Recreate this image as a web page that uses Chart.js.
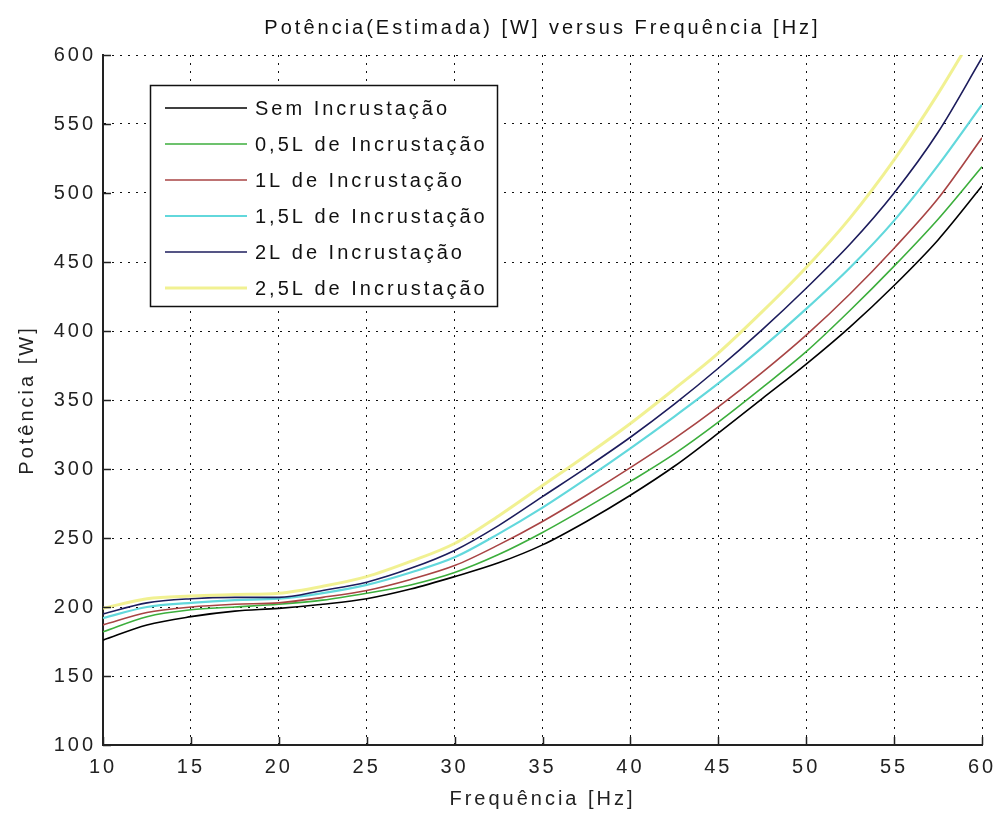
<!DOCTYPE html>
<html><head><meta charset="utf-8">
<script src="https://cdn.jsdelivr.net/npm/chart.js@4.4.1/dist/chart.umd.min.js"></script>
<style>html,body{margin:0;padding:0;background:#fff;}canvas{display:block;}</style>
</head><body>
<canvas id="c" width="997" height="816"></canvas>
<script>
// ---- data ----
const freq = [10,12.5,15,17.5,20,22.5,25,27.5,30,32.5,35,37.5,40,42.5,45,47.5,50,52.5,55,57.5,60];
const semIncrustacao = [176,187,193,197,199,202,206,213,222,232,245,262,281,302,326,351,376,403,433,466,505];
const incrust05 = [182,193,198,200,202,205,210,216,225,238,254,272,291,311,334,359,385,415,447,481,519];
const incrust10 = [187,196,200,202,203,207,212,220,230,245,262,281,301,322,345,370,397,427,460,496,540];
const incrust15 = [192,200,203,205,206,210,216,225,236,253,272,293,315,338,362,388,416,446,480,520,564];
const incrust20 = [195,203,206,207,207,212,218,228,241,259,280,301,323,347,373,401,431,463,500,544,598];
const incrust25 = [199,206,208,209,210,215,222,233,246,266,288,310,333,358,384,414,446,482,524,572,625];
const seriesLabels = ['Sem Incrustação','0,5L de Incrustação','1L de Incrustação','1,5L de Incrustação','2L de Incrustação','2,5L de Incrustação'];
const xTicks = [10,15,20,25,30,35,40,45,50,55,60];
const yTicks = [100,150,200,250,300,350,400,450,500,550,600];
const titleText = 'Potência(Estimada) [W] versus Frequência [Hz]';
const xTitle = 'Frequência [Hz]';
const yTitle = 'Potência [W]';

// ---- styles ----
const FONT = "'Liberation Sans', Arial, Helvetica, sans-serif";
const colors = ['#000000','#3cae3c','#a84444','#62d8dc','#1c1c5c','rgba(240,240,140,0.95)'];
const widths = [1.6,1.6,1.6,2.2,1.6,3];
const allSeries = [semIncrustacao,incrust05,incrust10,incrust15,incrust20,incrust25];

const datasets = allSeries.map((s,i)=>({
  label: seriesLabels[i],
  data: s.map((v,j)=>({x:freq[j], y:v})),
  borderColor: colors[i],
  borderWidth: widths[i],
  pointRadius: 0,
  cubicInterpolationMode: 'monotone',
  fill: false,
  order: 6 - i
}));

const spacingPlugin = {
  id: 'spacing',
  beforeUpdate(c){ c.ctx.letterSpacing = '3px'; },
  beforeLayout(c){ c.ctx.letterSpacing = '3px'; },
  beforeDraw(c){ c.ctx.letterSpacing = '3px'; }
};

const innerTicks = {
  id: 'innerTicks',
  afterDatasetsDraw(c){
    const ctx = c.ctx, xs = c.scales.x, ys = c.scales.y, a = c.chartArea;
    ctx.save();
    ctx.strokeStyle = '#222'; ctx.lineWidth = 1.5;
    ctx.beginPath();
    xTicks.forEach(t=>{ const px = Math.round(xs.getPixelForValue(t))+0.5; ctx.moveTo(px, a.bottom); ctx.lineTo(px, a.bottom-8); });
    yTicks.forEach(t=>{ const py = Math.round(ys.getPixelForValue(t))+0.5; ctx.moveTo(a.left, py); ctx.lineTo(a.left+8, py); });
    ctx.stroke();
    ctx.restore();
  }
};

const boxLegend = {
  id: 'boxLegend',
  afterDraw(c){
    const ctx = c.ctx;
    ctx.save();
    ctx.letterSpacing = '3px';
    ctx.fillStyle = '#fff';
    ctx.fillRect(150,85,348,222);
    ctx.strokeStyle = '#111'; ctx.lineWidth = 1.5;
    ctx.strokeRect(150.5,85.5,347,221);
    ctx.font = '20px ' + FONT;
    ctx.textBaseline = 'middle';
    ctx.textAlign = 'left';
    c.data.datasets.forEach((ds,i)=>{
      const y = 108 + i*36;
      ctx.strokeStyle = ds.borderColor; ctx.lineWidth = ds.borderWidth;
      ctx.beginPath(); ctx.moveTo(165,y); ctx.lineTo(247,y); ctx.stroke();
      ctx.fillStyle = '#111';
      ctx.fillText(ds.label, 255, y+1);
    });
    ctx.restore();
  }
};

new Chart(document.getElementById('c'), {
  type: 'line',
  data: { datasets },
  plugins: [spacingPlugin, innerTicks, boxLegend],
  options: {
    responsive: false,
    animation: false,
    layout: { padding: { left: 0, right: 15, top: 0, bottom: 0 } },
    plugins: {
      legend: { display: false },
      tooltip: { enabled: false },
      title: {
        display: true, text: titleText, color: '#111', fullSize: false,
        font: { family: FONT, size: 20, weight: 'normal' },
        padding: { top: 16, bottom: 15 }
      }
    },
    scales: {
      x: {
        type: 'linear', min: 10, max: 60,
        afterBuildTicks(s){ s.ticks = xTicks.map(v=>({value:v})); },
        afterFit(s){ s.height = 71; s.paddingLeft = 0; s.paddingRight = 0; },
        ticks: { color: '#222', font: { family: FONT, size: 20 }, padding: 10, maxRotation: 0, autoSkip: false },
        grid: { color: '#111', lineWidth: 1, drawTicks: false },
        border: { display: true, color: '#222', width: 2, dash: [2,6] },
        title: { display: true, text: xTitle, color: '#222', font: { family: FONT, size: 20 }, padding: { top: 0, bottom: 5 } }
      },
      y: {
        type: 'linear', min: 100, max: 600,
        afterBuildTicks(s){ s.ticks = yTicks.map(v=>({value:v})); },
        afterFit(s){ s.width = 103; s.paddingTop = 0; s.paddingBottom = 0; },
        ticks: { color: '#222', font: { family: FONT, size: 20 }, padding: 7, autoSkip: false },
        grid: { color: '#111', lineWidth: 1, drawTicks: false },
        border: { display: true, color: '#222', width: 2, dash: [2,6] },
        title: { display: true, text: yTitle, color: '#222', font: { family: FONT, size: 20 }, padding: { top: 15, bottom: 0 } }
      }
    }
  }
});
</script>
</body></html>
